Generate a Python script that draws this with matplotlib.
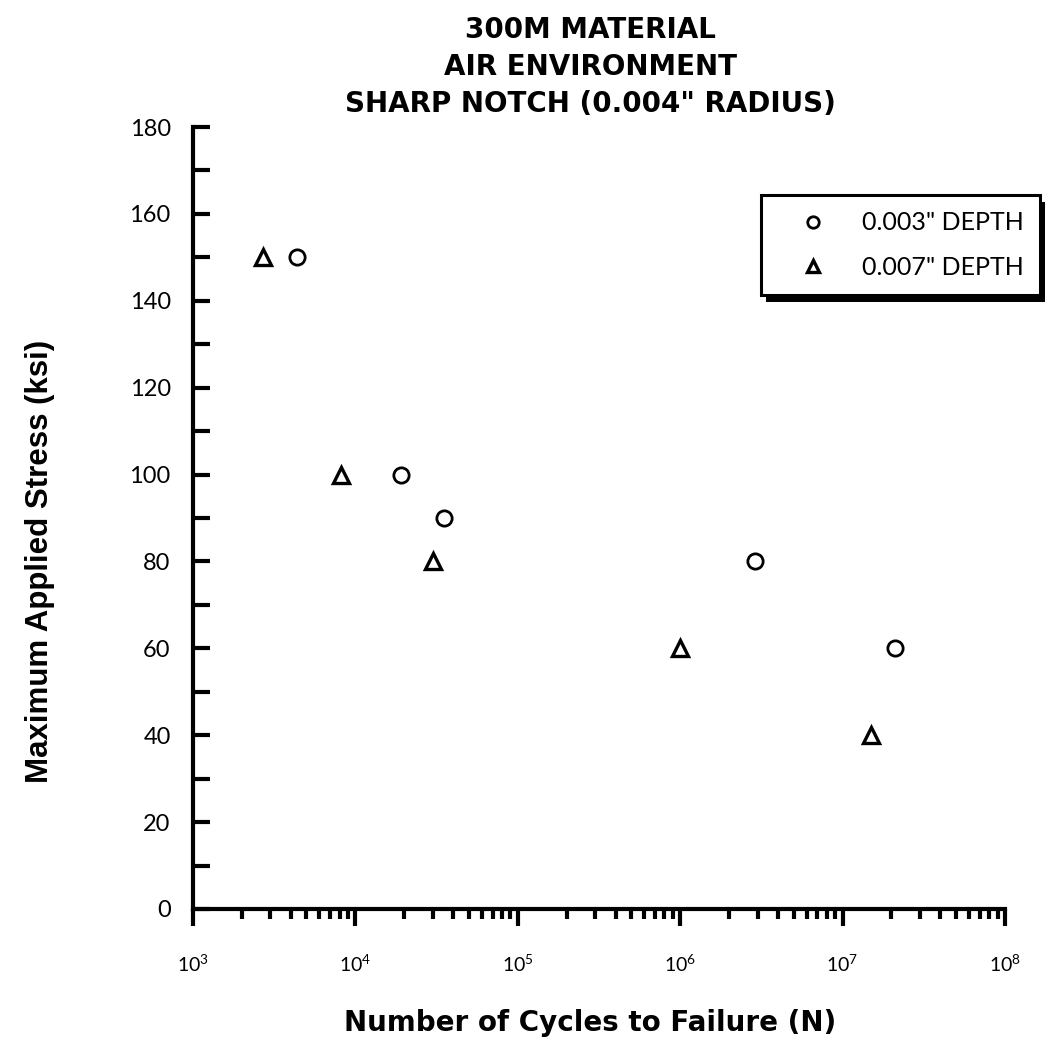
import matplotlib
matplotlib.use("Agg")
import matplotlib.pyplot as plt
import matplotlib.patches as patches
from matplotlib.ticker import LogLocator, FixedLocator, NullFormatter

# data
depth_003_cycles = [4.4e3, 1.9e4, 3.5e4, 2.9e6, 2.1e7]
depth_003_stress = [150, 100, 90, 80, 60]
depth_007_cycles = [2.7e3, 8.2e3, 3.0e4, 1.0e6, 1.5e7]
depth_007_stress = [150, 100, 80, 60, 40]

series_labels = ['0.003" DEPTH', '0.007" DEPTH']
title_lines = ["300M MATERIAL", "AIR ENVIRONMENT", 'SHARP NOTCH (0.004" RADIUS)']
y_ticks_major = list(range(0, 181, 20))
y_ticks_minor = list(range(10, 180, 20))

body_font = "Lato"
heading_font = "DejaVu Sans"
label_font = "Liberation Sans"

fig = plt.figure(figsize=(10.62, 10.49), dpi=100)
ax = fig.add_axes([0.1817, 0.1335, 0.7646, 0.7454])

ax.plot(depth_003_cycles, depth_003_stress, linestyle="none", marker="o",
        markersize=11, markerfacecolor="white", markeredgecolor="black",
        markeredgewidth=2.0, label=series_labels[0], clip_on=False)
ax.plot(depth_007_cycles, depth_007_stress, linestyle="none", marker="^",
        markersize=11, markerfacecolor="white", markeredgecolor="black",
        markeredgewidth=2.4, label=series_labels[1], clip_on=False)

ax.set_xscale("log")
ax.set_xlim(1e3, 1e8)
ax.set_ylim(0, 180)

# axes: only left and bottom, heavy lines
for side in ("top", "right"):
    ax.spines[side].set_visible(False)
for side in ("left", "bottom"):
    ax.spines[side].set_linewidth(3)

ax.yaxis.set_major_locator(FixedLocator(y_ticks_major))
ax.yaxis.set_minor_locator(FixedLocator(y_ticks_minor))
ax.tick_params(axis="y", which="both", direction="in", length=12, width=3,
               pad=16, labelsize=17)
ax.tick_params(axis="x", which="major", direction="out", length=12, width=3,
               pad=20, labelsize=14)
ax.tick_params(axis="x", which="minor", direction="out", length=7, width=3)
ax.xaxis.set_major_locator(LogLocator(base=10, numticks=10))
ax.xaxis.set_minor_locator(LogLocator(base=10, subs=range(2, 10), numticks=100))
ax.xaxis.set_minor_formatter(NullFormatter())

for lbl in ax.get_yticklabels() + ax.get_xticklabels():
    lbl.set_fontfamily(body_font)

ax.set_xlabel("Number of Cycles to Failure (N)", fontsize=20,
              fontweight="bold", fontfamily=heading_font)
ax.xaxis.set_label_coords(0.489, -0.128)
ax.set_ylabel("Maximum Applied Stress (ksi)", fontsize=22.5,
              fontweight="bold", fontfamily=label_font)
ax.yaxis.set_label_coords(-0.170, 0.445)

for i, line in enumerate(title_lines):
    fig.text(0.556, 1 - (30 + 37 * i) / 1049, line, ha="center", va="center",
             fontsize=20, fontweight="bold", fontfamily=heading_font)

leg = ax.legend(loc="upper left", bbox_to_anchor=(0.6995, 0.913),
                frameon=True, fancybox=False, framealpha=1,
                edgecolor="black", borderpad=0.65, labelspacing=0.85,
                handletextpad=0.5, borderaxespad=0, markerscale=0.75,
                handlelength=2.9, prop={"family": body_font, "size": 18})
leg.get_frame().set_linewidth(2.2)
leg.set_zorder(5)

# drop shadow behind the legend box
fig.canvas.draw()
bb = leg.get_window_extent().transformed(fig.transFigure.inverted())
dx, dy = 5 / 1062, 7 / 1049
shadow = patches.Rectangle((bb.x0 + dx, bb.y0 - dy), bb.width, bb.height,
                           transform=fig.transFigure, facecolor="black",
                           edgecolor="none", zorder=4, clip_on=False)
ax.add_patch(shadow)

fig.savefig("out.png", dpi=100)
